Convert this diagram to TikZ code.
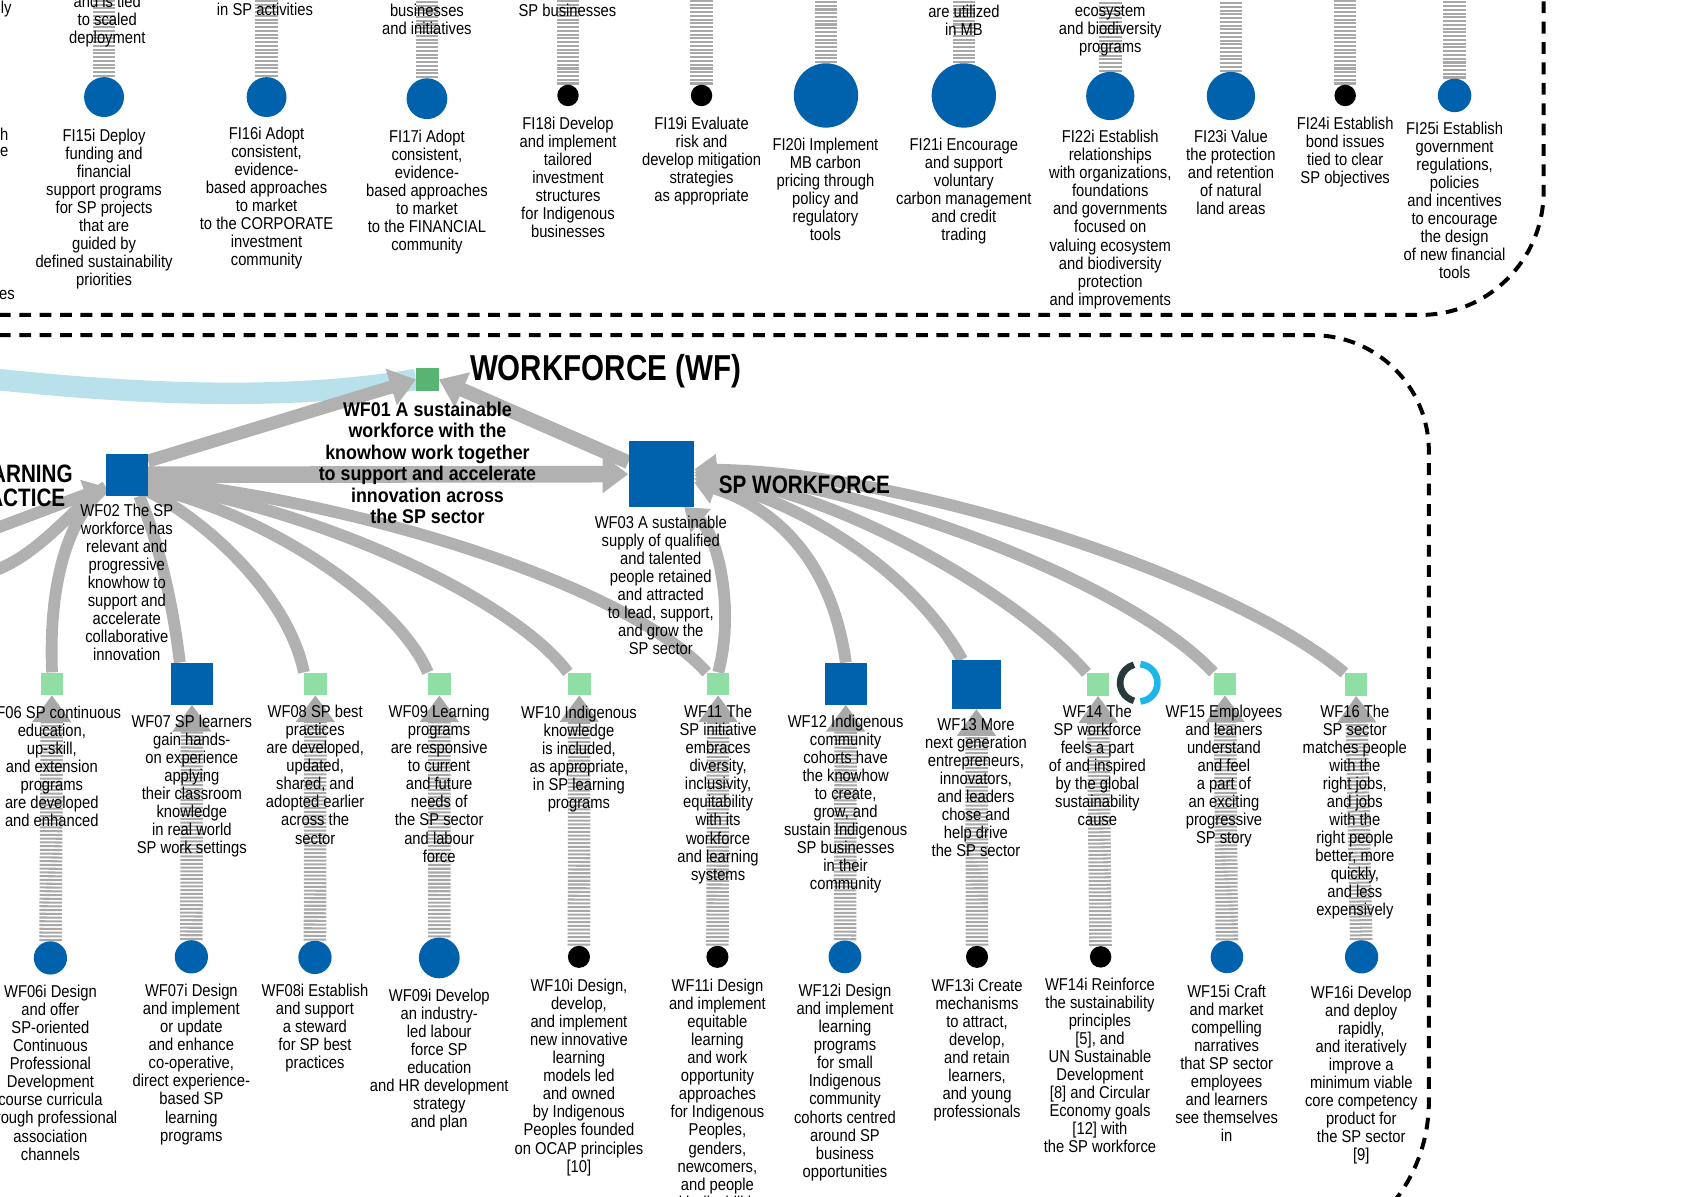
\documentclass[tikz,border=0pt]{standalone}
\usepackage{fontspec}
\setmainfont{Liberation Sans}[FakeStretch=0.86]
\newfontfamily\bfam{Liberation Sans}[FakeStretch=0.9]
\newfontfamily\tfam{Liberation Sans}[FakeStretch=0.82]
\usetikzlibrary{arrows.meta,backgrounds}
\definecolor{sblue}{HTML}{0062AC}
\definecolor{lgreen}{HTML}{8FDFA5}
\definecolor{mgreen}{HTML}{57B473}
\definecolor{bandgray}{HTML}{B1B1B1}
\definecolor{stemgray}{HTML}{A8A8A8}
\definecolor{lblue}{HTML}{B9E1EC}
\definecolor{ringdark}{HTML}{28393E}
\definecolor{ringblue}{HTML}{1FB5EA}
\tikzset{
  sqnode/.style={rectangle, inner sep=0pt, minimum size=#1},
  cnode/.style={circle, inner sep=0pt, minimum size=#1},
  txt/.style={font=\fontsize{16}{16.8}\selectfont, align=center, inner sep=0pt, anchor=north},
  btxt/.style={font=\bfam\bfseries\fontsize{18.5}{20}\selectfont, align=center, inner sep=0pt, anchor=north},
  band/.style={draw=bandgray, line width=#1},
  bandtip/.style={-{Triangle[length=24pt, width=34pt]}},
  fantip/.style={-{Triangle[length=20pt, width=28pt]}},
  stemline/.style={draw=stemgray, line width=21pt, dash pattern=on 1.9pt off 1.6pt},
  stemtip/.style={-{Triangle[length=25pt, width=35pt]}},
  border/.style={draw=black, line width=3.7pt, dash pattern=on 11pt off 8pt},
  bigtitle/.style={font=\tfam\bfseries\fontsize{33.6}{36}\selectfont, inner sep=0pt},
  midtitle/.style={font=\tfam\bfseries\fontsize{23.5}{26}\selectfont, inner sep=0pt}
}
\begin{document}
\begin{tikzpicture}[x=1pt,y=-1pt]
\useasboundingbox (0,0) rectangle (1568,1115);
\coordinate (topc) at (0,-20);
\coordinate (lbs) at (-5,353.5);
\coordinate (lin1) at (-5,493);
\coordinate (lin2) at (-5,532);
\coordinate (donut) at (1061.6,636.5);

% ---------- FI circles ----------
\node[cnode=37.2pt, fill=sblue] (fi15i) at (97,90.5) {};
\node[cnode=37.2pt, fill=sblue] (fi16i) at (248.5,90.5) {};
\node[cnode=38pt, fill=sblue] (fi17i) at (398,92) {};
\node[cnode=20pt, fill=black] (fi18i) at (529.5,89) {};
\node[cnode=20pt, fill=black] (fi19i) at (654,89) {};
\node[cnode=60pt, fill=sblue] (fi20i) at (770,89) {};
\node[cnode=60pt, fill=sblue] (fi21i) at (898.5,89) {};
\node[cnode=45pt, fill=sblue] (fi22i) at (1035,89.5) {};
\node[cnode=45pt, fill=sblue] (fi23i) at (1147.5,89.5) {};
\node[cnode=20pt, fill=black] (fi24i) at (1254,89) {};
\node[cnode=31.2pt, fill=sblue] (fi25i) at (1356,89) {};

% ---------- WF squares ----------
\node[sqnode=21pt, fill=mgreen] (wf01) at (398.4,353.8) {};
\node[sqnode=39pt, fill=sblue] (wf02) at (118.3,442.6) {};
\node[sqnode=61pt, fill=sblue] (wf03) at (616.4,442) {};
\node[sqnode=21pt, fill=lgreen] (wf06) at (48.5,637.5) {};
\node[sqnode=39pt, fill=sblue] (wf07) at (179,637.3) {};
\node[sqnode=21pt, fill=lgreen] (wf08) at (294,637.5) {};
\node[sqnode=21pt, fill=lgreen] (wf09) at (409.6,637.5) {};
\node[sqnode=21pt, fill=lgreen] (wf10) at (540,637.5) {};
\node[sqnode=21pt, fill=lgreen] (wf11) at (669.5,637.5) {};
\node[sqnode=39pt, fill=sblue] (wf12) at (788.5,637.3) {};
\node[sqnode=45.5pt, fill=sblue] (wf13) at (910.2,638) {};
\node[sqnode=21pt, fill=lgreen] (wf14) at (1023.5,638) {};
\node[sqnode=21pt, fill=lgreen] (wf15) at (1141.8,637.5) {};
\node[sqnode=21pt, fill=lgreen] (wf16) at (1264,638) {};

% ---------- WF circles ----------
\node[cnode=31pt, fill=sblue] (wf06i) at (47,893) {};
\node[cnode=31pt, fill=sblue] (wf07i) at (178.4,892) {};
\node[cnode=31pt, fill=sblue] (wf08i) at (293.6,892.5) {};
\node[cnode=38pt, fill=sblue] (wf09i) at (409.5,893) {};
\node[cnode=20.6pt, fill=black] (wf10i) at (539.7,892) {};
\node[cnode=20.6pt, fill=black] (wf11i) at (668.8,892) {};
\node[cnode=30.6pt, fill=sblue] (wf12i) at (787.7,892) {};
\node[cnode=20.6pt, fill=black] (wf13i) at (910.8,892) {};
\node[cnode=20pt, fill=black] (wf14i) at (1026,892) {};
\node[cnode=30.4pt, fill=sblue] (wf15i) at (1143.8,892) {};
\node[cnode=31pt, fill=sblue] (wf16i) at (1269.3,892) {};

\begin{scope}[on background layer]
% borders
\draw[border, rounded corners=115pt] (-20,293.6) -- (1439,293.6) -- (1439,-40);
\draw[border, rounded corners=108pt] (-20,312.5) -- (1332,312.5) -- (1332,700);
\draw[border, rounded corners=150pt] (1332,700) -- (1332,1177) -- (900,1177);
% light blue flow
\draw[draw=lblue, line width=20pt] (lbs) .. controls (150,370) and (280,372) .. (wf01.west);
% incoming from left to WF02
\draw[band=11pt] (lin2) .. controls (40,515) and (70,470) .. (wf02.210);
\draw[band=11pt] (wf06.north) .. controls (45,540) and (65,480) .. (wf02.210);
\draw[band=11pt, fantip] (lin1) -- (wf02.210);
% fan to WF02
\draw[band=11pt] (wf07.120) .. controls (162,570) and (150,510) .. (wf02.-60);
\draw[band=11pt] (wf08.north west) .. controls (270,560) and (200,490) .. (wf02.-38);
\draw[band=11pt] (wf09.north west) .. controls (370,560) and (250,480) .. (wf02.-30);
\draw[band=11pt] (wf10.north west) .. controls (480,560) and (300,475) .. (wf02.-22);
\draw[band=11pt] (wf11.north west) .. controls (590,550) and (350,470) .. (wf02.-15);
% fan to WF03
\draw[band=11pt, fantip] (wf16.north west) .. controls (1150,540) and (850,440) .. (wf03.8);
\draw[band=11pt, fantip] (wf15.north west) .. controls (1050,540) and (800,450) .. (wf03.3);
\draw[band=11pt, fantip] (wf14.north west) .. controls (950,555) and (780,458) .. (wf03.-2);
\draw[band=11pt, fantip] (wf13.120) .. controls (850,530) and (740,465) .. (wf03.-8);
\draw[band=11pt, fantip] (wf12.north) .. controls (775,520) and (720,472) .. (wf03.-14);
\draw[band=11pt, fantip] (wf11.north) .. controls (685,570) and (670,500) .. (wf03.-55);
% main arrows
\draw[band=15.5pt, bandtip] (wf02.east) -- (wf03.west);
\draw[band=12pt, bandtip] (wf02.33) -- (wf01.west);
\draw[band=13pt, bandtip] (wf03.160) -- (wf01.east);
% FI stems
\foreach \n in {fi15i,fi16i,fi17i,fi18i,fi19i,fi20i,fi21i,fi22i,fi23i,fi24i,fi25i}
  \draw[stemline] (\n.north) -- (\n.north |- topc);
% WF stems
\draw[stemline, stemtip] (wf06i) -- (wf06);
\draw[stemline, stemtip] (wf07i) -- (wf07);
\draw[stemline, stemtip] (wf08i) -- (wf08);
\draw[stemline, stemtip] (wf09i) -- (wf09);
\draw[stemline, stemtip] (wf10i) -- (wf10);
\draw[stemline, stemtip] (wf11i) -- (wf11);
\draw[stemline, stemtip] (wf12i) -- (wf12);
\draw[stemline, stemtip] (wf13i) -- (wf13);
\draw[stemline, stemtip] (wf14i) -- (wf14);
\draw[stemline, stemtip] (wf15i) -- (wf15);
\draw[stemline, stemtip] (wf16i) -- (wf16);
\end{scope}

% ring icon
\draw[ringdark, line width=6.2pt] (donut) ++(105:17.4) arc[start angle=105, end angle=255, radius=17.4];
\draw[ringblue, line width=6.2pt] (donut) ++(-85:17.4) arc[start angle=-85, end angle=85, radius=17.4];

% ---------- titles ----------
\node[bigtitle, anchor=base west] (wftitle) at (438,355) {WORKFORCE (WF)};
\node[midtitle, anchor=base west] (spwf) at (670,459.6) {SP WORKFORCE};
\node[midtitle, anchor=base east] (lp1) at (68,449.6) {LEARNING};
\node[midtitle, anchor=base east] (lp2) at (61,472) {PRACTICE};

% ---------- left fragments ----------
\node[txt, anchor=east] (fr1) at (11,8) {ly};
\node[txt, anchor=east] (fr2) at (8,125) {h};
\node[txt, anchor=east] (fr3) at (8,142) {e};
\node[txt, anchor=east] (fr4) at (14,275) {es};

% ---------- FI texts above ----------
\node[txt] (ta15) at (100,-4.5) {and is tied\\to scaled\\deployment};
\node[txt] (ta16) at (247,2.4) {in SP activities};
\node[txt] (ta17) at (398,3.3) {businesses\\and initiatives};
\node[txt] (ta18) at (529,3.3) {SP businesses};
\node[txt] (ta21) at (898.6,4.9) {are utilized\\in MB};
\node[txt] (ta22) at (1035,5) {ecosystem\\and biodiversity\\programs};

% ---------- FI texts ----------
\node[txt] (t15i) at (97,119.8) {FI15i Deploy\\funding and\\financial\\support programs\\for SP projects\\that are\\guided by\\defined sustainability\\priorities};
\node[txt] (t16i) at (248.5,118.3) {FI16i Adopt\\consistent,\\evidence-\\based approaches\\to market\\to the CORPORATE\\investment\\community};
\node[txt] (t17i) at (398,120.8) {FI17i Adopt\\consistent,\\evidence-\\based approaches\\to market\\to the FINANCIAL\\community};
\node[txt] (t18i) at (529.5,109) {FI18i Develop\\and implement\\tailored\\investment\\structures\\for Indigenous\\businesses};
\node[txt] (t19i) at (654,109) {FI19i Evaluate\\risk and\\develop mitigation\\strategies\\as appropriate};
\node[txt] (t20i) at (769.5,128.2) {FI20i Implement\\MB carbon\\pricing through\\policy and\\regulatory\\tools};
\node[txt] (t21i) at (898.5,128.2) {FI21i Encourage\\and support\\voluntary\\carbon management\\and credit\\trading};
\node[txt] (t22i) at (1035,121.4) {FI22i Establish\\relationships\\with organizations,\\foundations\\and governments\\focused on\\valuing ecosystem\\and biodiversity\\protection\\and improvements};
\node[txt] (t23i) at (1147.5,121.4) {FI23i Value\\the protection\\and retention\\of natural\\land areas};
\node[txt] (t24i) at (1254,109) {FI24i Establish\\bond issues\\tied to clear\\SP objectives};
\node[txt] (t25i) at (1356,113.6) {FI25i Establish\\government\\regulations,\\policies\\and incentives\\to encourage\\the design\\of new financial\\tools};

% ---------- WF texts ----------
\node[btxt] (twf01) at (398.5,374.6) {WF01 A sustainable\\workforce with the\\knowhow work together\\to support and accelerate\\innovation across\\the SP sector};
\node[txt] (twf02) at (118.2,470) {WF02 The SP\\workforce has\\relevant and\\progressive\\knowhow to\\support and\\accelerate\\collaborative\\innovation};
\node[txt] (twf03) at (616,481) {WF03 A sustainable\\supply of qualified\\and talented\\people retained\\and attracted\\to lead, support,\\and grow the\\SP sector};
\node[txt] (twf06) at (48.3,658.3) {WF06 SP continuous\\education,\\up-skill,\\and extension\\programs\\are developed\\and enhanced};
\node[txt] (twf07) at (178.8,666) {WF07 SP learners\\gain hands-\\on experience\\applying\\their classroom\\knowledge\\in real world\\SP work settings};
\node[txt] (twf08) at (293.8,657.4) {WF08 SP best\\practices\\are developed,\\updated,\\shared, and\\adopted earlier\\across the\\sector};
\node[txt] (twf09) at (409.4,657.4) {WF09 Learning\\programs\\are responsive\\to current\\and future\\needs of\\the SP sector\\and labour\\force};
\node[txt] (twf10) at (539.7,658) {WF10 Indigenous\\knowledge\\is included,\\as appropriate,\\in SP learning\\programs};
\node[txt] (twf11) at (669.4,657.4) {WF11 The\\SP initiative\\embraces\\diversity,\\inclusivity,\\equitability\\with its\\workforce\\and learning\\systems};
\node[txt] (twf12) at (788.3,666) {WF12 Indigenous\\community\\cohorts have\\the knowhow\\to create,\\grow, and\\sustain Indigenous\\SP businesses\\in their\\community};
\node[txt] (twf13) at (909.8,669.8) {WF13 More\\next generation\\entrepreneurs,\\innovators,\\and leaders\\chose and\\help drive\\the SP sector};
\node[txt] (twf14) at (1023,656.8) {WF14 The\\SP workforce\\feels a part\\of and inspired\\by the global\\sustainability\\cause};
\node[txt] (twf15) at (1141,656.8) {WF15 Employees\\and leaners\\understand\\and feel\\a part of\\an exciting\\progressive\\SP story};
\node[txt] (twf16) at (1263,656.8) {WF16 The\\SP sector\\matches people\\with the\\right jobs,\\and jobs\\with the\\right people\\better, more\\quickly,\\and less\\expensively};

\node[txt] (twf06i) at (47,918.4) {WF06i Design\\and offer\\SP-oriented\\Continuous\\Professional\\Development\\course curricula\\through professional\\association\\channels};
\node[txt] (twf07i) at (178.4,917.5) {WF07i Design\\and implement\\or update\\and enhance\\co-operative,\\direct experience-\\based SP\\learning\\programs};
\node[txt] (twf08i) at (293.6,917.5) {WF08i Establish\\and support\\a steward\\for SP best\\practices};
\node[txt] (twf09i) at (409.5,921.5) {WF09i Develop\\an industry-\\led labour\\force SP\\education\\and HR development\\strategy\\and plan};
\node[txt] (twf10i) at (539.7,912.8) {WF10i Design,\\develop,\\and implement\\new innovative\\learning\\models led\\and owned\\by Indigenous\\Peoples founded\\on OCAP principles\\{[10]}};
\node[txt] (twf11i) at (668.8,912.8) {WF11i Design\\and implement\\equitable\\learning\\and work\\opportunity\\approaches\\for Indigenous\\Peoples,\\genders,\\newcomers,\\and people\\with disabilities};
\node[txt] (twf12i) at (787.7,917.5) {WF12i Design\\and implement\\learning\\programs\\for small\\Indigenous\\community\\cohorts centred\\around SP\\business\\opportunities};
\node[txt] (twf13i) at (910.8,912.8) {WF13i Create\\mechanisms\\to attract,\\develop,\\and retain\\learners,\\and young\\professionals};
\node[txt] (twf14i) at (1025.4,911.6) {WF14i Reinforce\\the sustainability\\principles\\{[5]}, and\\UN Sustainable\\Development\\{[8]} and Circular\\Economy goals\\{[12]} with\\the SP workforce};
\node[txt] (twf15i) at (1143.5,917.8) {WF15i Craft\\and market\\compelling\\narratives\\that SP sector\\employees\\and learners\\see themselves\\in};
\node[txt] (twf16i) at (1269,919) {WF16i Develop\\and deploy\\rapidly,\\and iteratively\\improve a\\minimum viable\\core competency\\product for\\the SP sector\\{[9]}};
\end{tikzpicture}
\end{document}
